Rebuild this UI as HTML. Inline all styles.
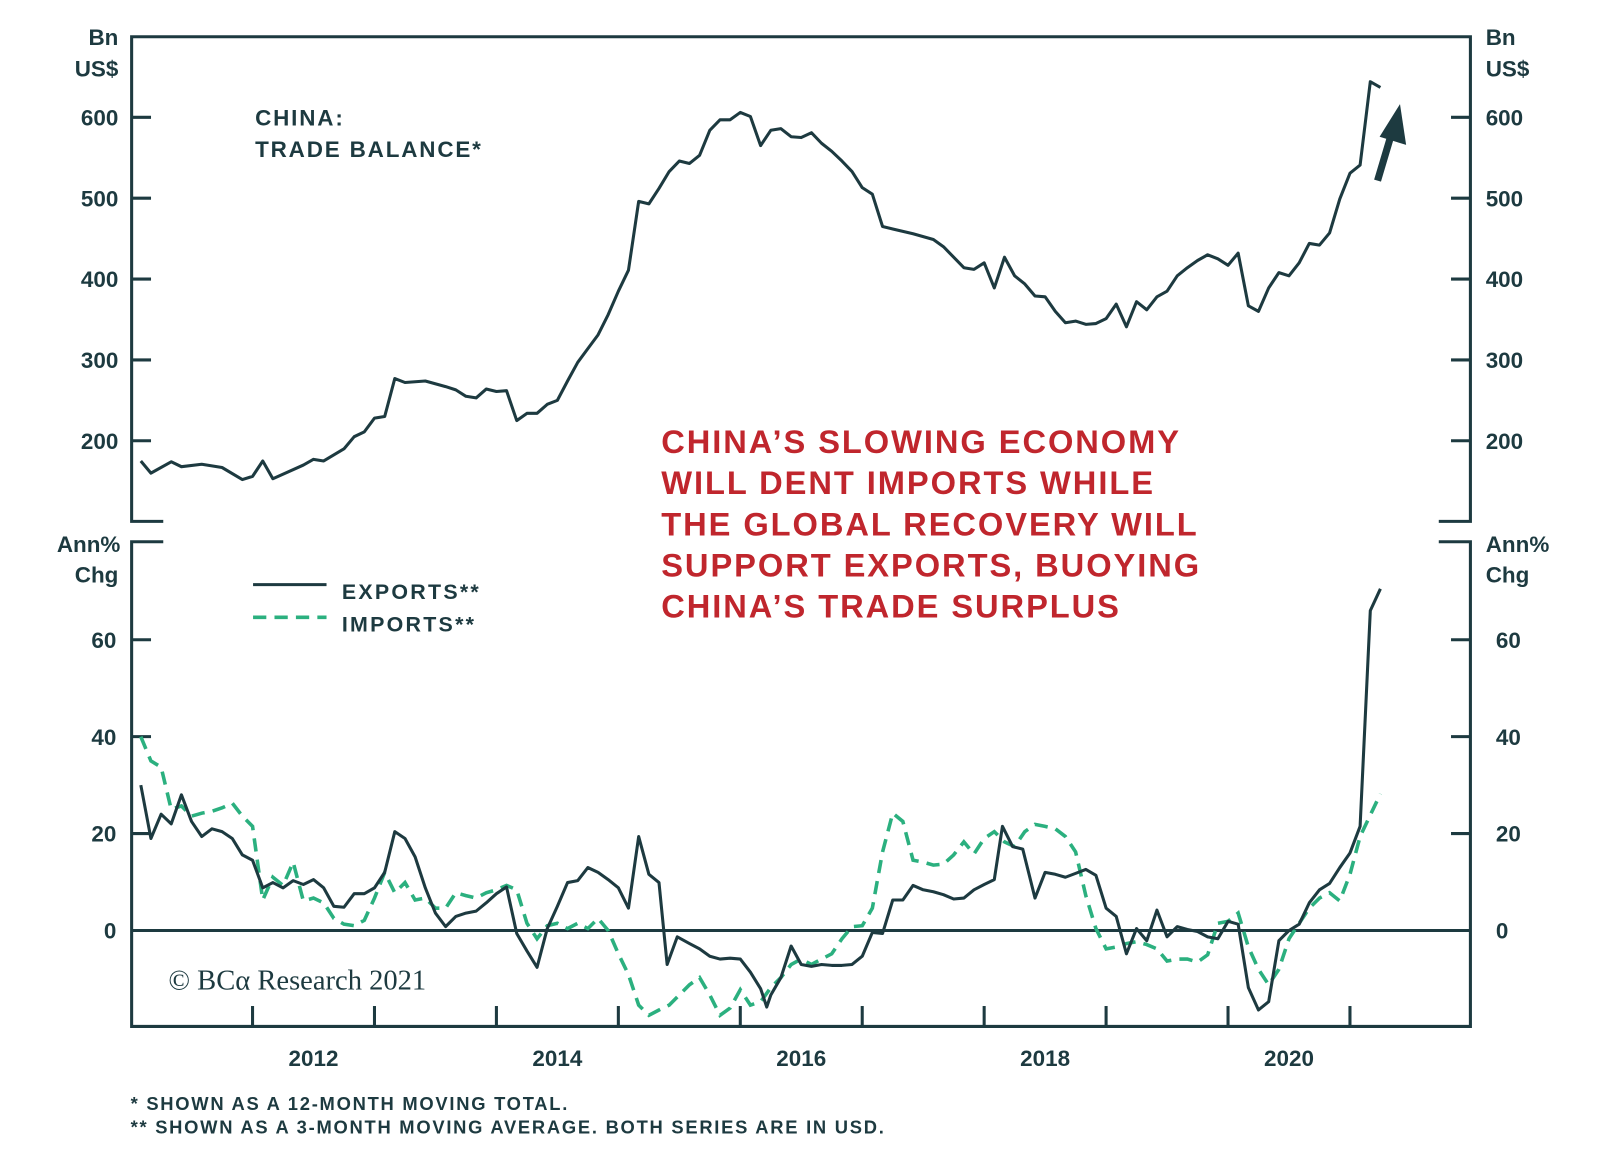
<!DOCTYPE html>
<html><head><meta charset="utf-8"><style>
body{margin:0;background:#fff;}
svg{display:block;}
text{font-family:"Liberation Sans",sans-serif;}
</style></head><body>
<svg id="chart" width="1600" height="1156" viewBox="0 0 1568 1133" preserveAspectRatio="none">
<g id="frame" stroke="#1d3a40" stroke-width="3" fill="none">
<polyline points="160,511 129,511 129,36 1441,36 1441,511 1410,511"/>
<polyline points="160,531 129,531 129,1006 1441,1006 1441,531 1410,531"/>
</g>
<g id="axes"></g>
<g id="series"></g>
<text x="250" y="123" font-size="22" font-weight="bold" fill="#1d3a40" letter-spacing="1.8">CHINA:</text>
<text x="250" y="154" font-size="22" font-weight="bold" fill="#1d3a40" letter-spacing="1.8">TRADE BALANCE*</text>
<g font-size="32" font-weight="bold" fill="#c0262d" letter-spacing="1.9">
<text x="648" y="444">CHINA’S SLOWING ECONOMY</text>
<text x="648" y="484">WILL DENT IMPORTS WHILE</text>
<text x="648" y="525">THE GLOBAL RECOVERY WILL</text>
<text x="648" y="565">SUPPORT EXPORTS, BUOYING</text>
<text x="648" y="605">CHINA’S TRADE SURPLUS</text>
</g>
<g>
<line x1="248" y1="573" x2="320" y2="573" stroke="#1d3a40" stroke-width="3"/>
<text x="335" y="587" font-size="21" font-weight="bold" fill="#1d3a40" letter-spacing="2.2">EXPORTS**</text>
<line x1="248" y1="605" x2="320" y2="605" stroke="#2bb07f" stroke-width="3.5" stroke-dasharray="13,8"/>
<text x="335" y="619" font-size="21" font-weight="bold" fill="#1d3a40" letter-spacing="2.2">IMPORTS**</text>
</g>
<g fill="#1d3a40" font-size="22" font-weight="bold">
<text x="116" y="44" text-anchor="end">Bn</text>
<text x="116" y="75" text-anchor="end">US$</text>
<text x="1456" y="44">Bn</text>
<text x="1456" y="75">US$</text>
<text x="118" y="541" text-anchor="end">Ann%</text>
<text x="116" y="571" text-anchor="end">Chg</text>
<text x="1456" y="541">Ann%</text>
<text x="1456" y="571">Chg</text>
</g>
<text x="165" y="970" style="font-family:'Liberation Serif',serif" font-size="28" fill="#1d3a40">© BCα Research 2021</text>
<g fill="#1d3a40" font-size="18" font-weight="bold" letter-spacing="1.7">
<text x="128" y="1088">*  SHOWN AS A 12-MONTH MOVING TOTAL.</text>
<text x="128" y="1111">** SHOWN AS A 3-MONTH MOVING AVERAGE. BOTH SERIES ARE IN USD.</text>
</g>
<g>
<line x1="1350" y1="177" x2="1364" y2="130" stroke="#1d3a40" stroke-width="7"/>
<polygon points="1372,102 1378,142 1352,134" fill="#1d3a40"/>
</g>
</svg>
<script>
const tbMonths=[1,2,4,5,7,9,11,12,13,14,17,18,19,21,22,23,24,25,26,27,29,31,32,33,34,35,36,37,38,39,40,41,42,43,44,45,46,47,48,49,50,51,52,53,54,55,56,57,58,59,60,61,62,63,64,65,66,67,68,69,70,71,72,73,74,75,77,79,80,81,82,83,84,85,86,87,88,89,90,91,92,93,94,95,96,97,98,99,100,101,102,103,104,105,106,107,108,109,110,111,112,113,114,115,116,117,118,119,120,121,122,123];
const tbValues=[175,160,174,168,171,167,152,156,175,153,170,177,175,190,205,211,228,230,277,272,274,267,263,255,253,264,261,262,225,234,234,245,250,274,297,314,331,356,385,411,496,493,512,533,546,543,553,584,597,597,606,601,565,584,586,576,575,581,568,558,546,533,513,505,465,462,456,449,440,427,414,412,420,389,427,404,394,379,378,360,346,348,344,345,351,369,341,372,362,378,385,404,414,423,430,425,417,432,367,360,389,408,404,420,444,442,457,499,531,541,644,637];
const expMonths=[1,2,3,4,5,6,7,8,9,10,11,12,13,14,15,16,17,18,19,20,21,22,23,24,25,26,27,28,29,30,31,32,33,34,35,36,37,38,39,40,41,42,43,44,45,46,47,48,49,50,51,52,52.8,53.8,55,56,57,58,59,60,61,62,62.6,63,64,65,66,67,68,69,70,71,72,73,74,75,76,77,78,79,80,81,82,83,84,85,85.8,86.8,87.8,89,90,91,92,93,94,95,96,97,98,99,100,101,102,103,104,105,106,107,108,109,110,111,112,113,114,115,116,117,118,119,120,121,122,123];
const expValues=[30,19,24,22,28,22.5,19.4,21,20.4,19,15.6,14.5,8.8,9.9,8.8,10.3,9.5,10.5,8.8,5,4.8,7.6,7.6,8.8,12,20.4,19,15.2,8.8,3.6,0.8,2.9,3.6,4,5.7,7.6,9,-0.6,-4.2,-7.6,0.4,5,9.9,10.3,13,12,10.5,8.8,4.6,19.4,11.6,9.9,-7,-1.3,-2.7,-3.8,-5.3,-5.9,-5.7,-5.9,-8.6,-12,-15.8,-13.3,-9.7,-3.2,-7,-7.4,-7,-7.2,-7.2,-7,-5.3,-0.4,-0.6,6.3,6.3,9.3,8.4,8,7.4,6.5,6.7,8.4,9.5,10.5,21.5,17.3,16.8,6.7,12,11.6,11,11.8,12.6,11.4,4.6,2.9,-4.8,0.4,-2.1,4.2,-1.3,0.8,0.2,-0.2,-1.3,-1.7,1.9,1.3,-11.8,-16.4,-14.7,-2.1,0,1.3,5.7,8.4,9.7,13,16,21.5,66,70.5];
const impMonths=[1,2,3,4,5,6,7,8,9,10,11,12,13,14,15,16,17,18,19,20,21,22,23,24,25,26,27,28,29,30,31,32,33,34,35,36,37,38,39,40,41,42,43,44,45,46,47,48,49,50,51,52,53,54,55,56,57,58,59,60,61,62,63,64,65,66,67,68,69,70,71,72,73,74,75,76,77,78,79,80,81,82,83,84,85,86,87,88,89,90,91,92,93,94,95,96,97,98,99,100,101,102,103,104,105,106,107,108,109,110,111,112,113,114,115,116,117,118,119,120,121,123];
const impValues=[40,35,33.7,25,25.7,23.6,24.2,24.6,25.3,26.3,23.6,21.5,6.3,11,9.3,14.1,6.1,6.7,5.7,2.5,1.3,1,2.1,6.7,12,7.8,9.9,6.3,6.7,4.6,4.6,7.8,7.2,6.7,7.8,8.4,9.3,8.4,1.5,-1.7,1,1.5,0.4,1.5,0.4,2.5,0,-4.8,-9.1,-15.4,-17.5,-16.4,-15.4,-13.3,-11.2,-9.7,-13.3,-17.5,-16,-12.2,-15.4,-14.7,-11.8,-9.7,-7,-5.9,-7,-5.9,-4.8,-1.7,0.8,1,4.6,16.2,24.2,22.5,14.5,14.1,13.5,13.7,15.6,18.3,15.8,19,20.4,18.3,17.3,20.4,21.9,21.5,21,19.4,16.2,7.2,0.4,-3.8,-3.4,-2.7,-2.3,-2.9,-3.8,-6.3,-5.9,-5.9,-6.5,-5,1.5,1.9,3.6,-3.4,-8,-11.2,-8,-1.7,1.5,4.6,6.7,7.8,6.1,11.6,19.4,28.2];
const topTicks=[200,300,400,500,600];
const botTicks=[0,20,40,60];
const yearLabels=["2012","2014","2016","2018","2020"];

const NS="http://www.w3.org/2000/svg";
const X=m=>128+m*9.958;
const YT=v=>115+(600-v)*0.7925;
const YB=v=>912-v*4.75;
function mk(tag,attrs,parent){const e=document.createElementNS(NS,tag);for(const k in attrs)e.setAttribute(k,attrs[k]);parent.appendChild(e);return e;}
const axes=document.getElementById('axes'),ser=document.getElementById('series');
const C="#1d3a40";
topTicks.forEach(v=>{
  const y=YT(v);
  const l1=mk('line',{x1:129,x2:148,y1:y,y2:y,stroke:C,'stroke-width':3},axes);
  
  
  const l2=mk('line',{x1:1422,x2:1441,y1:y,y2:y,stroke:C,'stroke-width':3},axes);
  
  
  const t1=mk('text',{x:116,y:y+8,'text-anchor':'end','font-size':22,'font-weight':'bold',fill:C},axes);t1.textContent=v;
  
  
  const t2=mk('text',{x:1456,y:y+8,'font-size':22,'font-weight':'bold',fill:C},axes);t2.textContent=v;
  
  
});
botTicks.forEach(v=>{
  const y=YB(v);
  if(v===0){const z=mk('line',{x1:129,x2:1441,y1:y,y2:y,stroke:C,'stroke-width':3},axes);
    
    }
  else{
  const l1=mk('line',{x1:129,x2:148,y1:y,y2:y,stroke:C,'stroke-width':3},axes);
  
  
  const l2=mk('line',{x1:1422,x2:1441,y1:y,y2:y,stroke:C,'stroke-width':3},axes);
  
  }
  const t1=mk('text',{x:114,y:y+8,'text-anchor':'end','font-size':22,'font-weight':'bold',fill:C},axes);t1.textContent=v;
  
  
  const t2=mk('text',{x:1466,y:y+8,'font-size':22,'font-weight':'bold',fill:C},axes);t2.textContent=v;
  
  
});
for(let yr=1;yr<=10;yr++){
  const x=X(yr*12);
  const l=mk('line',{x1:x,x2:x,y1:986,y2:1006,stroke:C,'stroke-width':3},axes);
  
  
}
yearLabels.forEach((lab,i)=>{
  const m=12+i*24+6;
  const t=mk('text',{x:X(m),y:1045,'text-anchor':'middle','font-size':22,'font-weight':'bold',fill:C},axes);t.textContent=lab;
  
  
});
function pts(ms,vs,Y){return ms.map((m,i)=>X(m).toFixed(1)+","+Y(vs[i]).toFixed(1)).join(" ");}
const tb=mk('polyline',{points:pts(tbMonths,tbValues,YT),fill:'none',stroke:C,'stroke-width':3,'stroke-linejoin':'round'},ser);


const im=mk('polyline',{points:pts(impMonths,impValues,YB),fill:'none',stroke:'#2bb07f','stroke-width':3.5,'stroke-dasharray':'13,8'},ser);


const ex=mk('polyline',{points:pts(expMonths,expValues,YB),fill:'none',stroke:C,'stroke-width':3,'stroke-linejoin':'round'},ser);


</script>
</body></html>
